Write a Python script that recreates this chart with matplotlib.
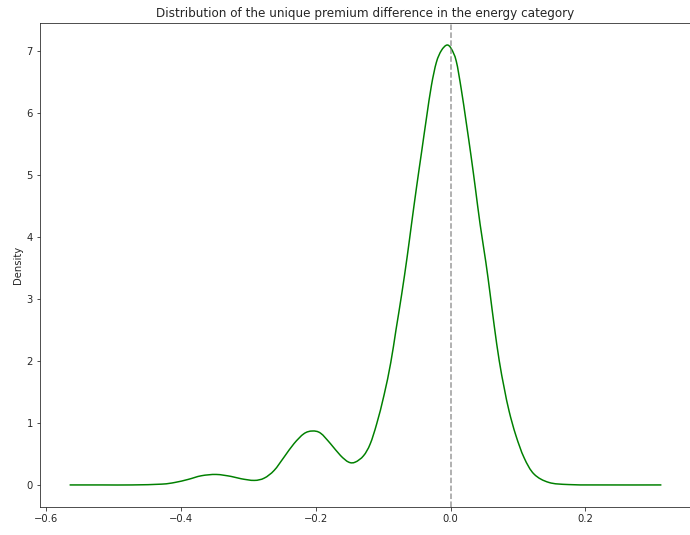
import matplotlib
matplotlib.use("Agg")
import matplotlib.pyplot as plt
from matplotlib.path import Path
from matplotlib.patches import PathPatch

# density curve (x = premium difference, y = density)
x_vals = [-0.5653, -0.517, -0.473, -0.4287, -0.4091, -0.3894, -0.3698, -0.3477,
          -0.3256, -0.3109, -0.2913, -0.2765, -0.2618, -0.2471, -0.2324, -0.2176,
          -0.2052, -0.1930, -0.1782, -0.1635, -0.1513, -0.1414, -0.1292, -0.1193,
          -0.1095, -0.0987, -0.0888, -0.0810, -0.0726, -0.0644, -0.0579, -0.0505,
          -0.0431, -0.0357, -0.0284, -0.0211, -0.0137, -0.0055, 0.0010, 0.0084,
          0.0158, 0.0231, 0.0305, 0.0368, 0.0438, 0.0523, 0.0585, 0.0648,
          0.0722, 0.0796, 0.0869, 0.0968, 0.1090, 0.1238, 0.1459, 0.1753,
          0.2195, 0.3128]
density = [0.0, 0.0, 0.0, 0.013, 0.040, 0.089, 0.148, 0.169,
           0.137, 0.100, 0.073, 0.110, 0.234, 0.448, 0.665, 0.826,
           0.869, 0.835, 0.665, 0.476, 0.368, 0.368, 0.470, 0.660,
           0.990, 1.450, 1.970, 2.500, 3.070, 3.680, 4.210, 4.800,
           5.360, 5.920, 6.440, 6.810, 7.000, 7.089, 7.030, 6.830,
           6.380, 5.850, 5.290, 4.780, 4.200, 3.590, 3.090, 2.560,
           2.000, 1.560, 1.185, 0.800, 0.440, 0.175, 0.040, 0.006,
           0.0, 0.0]


def smooth_path(xs, ys):
    # catmull-rom through the read points, drawn as bezier segments
    verts = [(xs[0], ys[0])]
    codes = [Path.MOVETO]
    n = len(xs)
    for i in range(n - 1):
        x0, y0 = (xs[i - 1], ys[i - 1]) if i > 0 else (xs[i], ys[i])
        x1, y1 = xs[i], ys[i]
        x2, y2 = xs[i + 1], ys[i + 1]
        x3, y3 = (xs[i + 2], ys[i + 2]) if i + 2 < n else (x2, y2)
        c1 = (x1 + (x2 - x0) / 6, y1 + (y2 - y0) / 6)
        c2 = (x2 - (x3 - x1) / 6, y2 - (y3 - y1) / 6)
        verts += [c1, c2, (x2, y2)]
        codes += [Path.CURVE4] * 3
    return Path(verts, codes)


plt.rcParams['text.color'] = '#262626'
plt.rcParams['axes.labelcolor'] = '#262626'
plt.rcParams['xtick.color'] = '#262626'
plt.rcParams['ytick.color'] = '#262626'
plt.rcParams['axes.edgecolor'] = '#262626'

fig = plt.figure(figsize=(690 / 72, 535 / 72), dpi=72)
ax = fig.add_axes([40 / 690, 28 / 535, 651 / 690, 484 / 535])

# invisible line so autoscaling works as a normal plot would
ax.plot(x_vals, density, alpha=0)
ax.add_patch(PathPatch(smooth_path(x_vals, density), facecolor='none',
                       edgecolor='green', linewidth=1.5))
ax.axvline(0, color='grey', linestyle='--', alpha=0.8, linewidth=1.5)

ax.set_title("Distribution of the unique premium difference in the energy category",
             fontsize=12)
ax.set_ylabel("Density", fontsize=10)
ax.tick_params(labelsize=10)

fig.savefig("out.png", dpi=72)
